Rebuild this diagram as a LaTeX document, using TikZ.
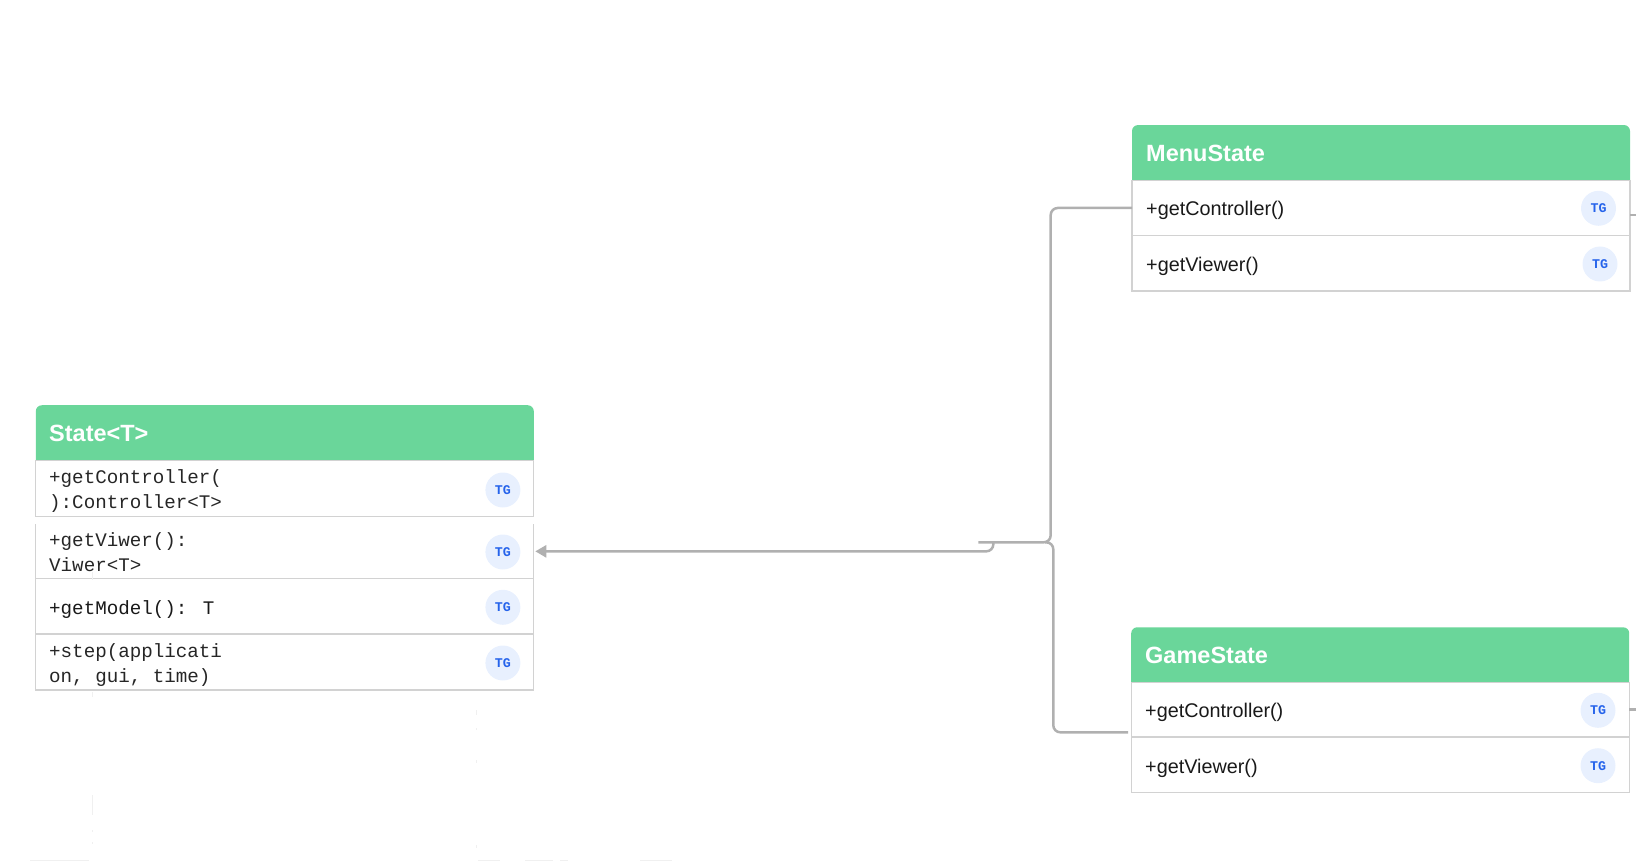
\documentclass[tikz,border=0pt]{standalone}
\usepackage{fontspec}
\setmainfont{Liberation Sans}
\newfontfamily\monofam{Liberation Mono}
\usetikzlibrary{arrows.meta}
\definecolor{headgreen}{HTML}{6AD69A}
\definecolor{rowgray}{HTML}{D2D2D2}
\definecolor{linkgray}{HTML}{B0B0B0}
\definecolor{badgefill}{HTML}{E8F0FE}
\definecolor{badgeblue}{HTML}{2563EB}
\definecolor{tracegray}{HTML}{F0F0F0}
\tikzset{
	rowbox/.style={rectangle,draw=rowgray,line width=1.3pt,inner sep=0pt,outer sep=0pt,minimum width=498pt},
	rowopen/.style={rectangle,inner sep=0pt,outer sep=0pt,minimum width=498pt},
	headbox/.style={rectangle,inner sep=0pt,outer sep=0pt,minimum width=498pt},
	headtext/.style={anchor=base west,inner sep=0pt,text=white,font=\fontsize{23.5}{28}\selectfont\bfseries},
	codetext/.style={anchor=west,inner sep=0pt,align=left,font=\monofam\fontsize{19.2}{25}\selectfont,text=black!85},
	rowtext/.style={anchor=base west,inner sep=0pt,font=\fontsize{19.8}{24}\selectfont,text=black!90},
	badge/.style={circle,fill=badgefill,minimum size=35pt,inner sep=0pt,text=badgeblue,font=\monofam\fontsize{13.3}{16}\selectfont\bfseries},
	link/.style={draw=linkgray,line width=2.5pt},
	trace/.style={draw=tracegray,line width=0.8pt}
}
\begin{document}
\begin{tikzpicture}[x=1pt,y=-1pt]
	\useasboundingbox (0,0) rectangle (1636,866);

	% State<T>
	\node[headbox,minimum height=55.5pt] (sh) at (284.8,433) {};
	\fill[headgreen] (sh.south west) [rounded corners=6pt] -- (sh.north west) -- (sh.north east) [sharp corners] -- (sh.south east) -- cycle;
	\node[headtext] (shtext) at (49,441.5) {State<T>};

	\node[rowbox,minimum height=56pt] (s1) at (284.8,488.7) {};
	\node[rowopen,minimum height=54.7pt] (s2) at (284.8,551.35) {};
	\draw[rowgray,line width=1.3pt] (s2.north west) -- (s2.south west) -- (s2.south east) -- (s2.north east);
	\node[rowbox,minimum height=55.3pt] (s3) at (284.8,606.35) {};
	\node[rowbox,minimum height=56pt] (s4) at (284.8,662) {};

	\node[codetext] (s1text) at (49,491) {+getController(\\):Controller<T>};
	\node[codetext] (s2text) at (49,552.5) {+getViwer():\\Viwer<T>};
	\node[rowtext,font=\monofam\fontsize{19.2}{25}\selectfont] (s3text) at (49,614) {+getModel(): T};
	\node[codetext] (s4text) at (49,665) {+step(applicati\\on, gui, time)};

	\node[badge] (s1tag) at (502.9,490) {TG};
	\node[badge] (s2tag) at (502.9,552) {TG};
	\node[badge] (s3tag) at (502.9,607.3) {TG};
	\node[badge] (s4tag) at (502.9,663) {TG};

	% MenuState
	\node[headbox,minimum height=55.3pt] (mh) at (1381,152.7) {};
	\fill[headgreen] (mh.south west) [rounded corners=6pt] -- (mh.north west) -- (mh.north east) [sharp corners] -- (mh.south east) -- cycle;
	\node[headtext] (mhtext) at (1146,161.5) {MenuState};

	\node[rowbox,minimum height=55pt] (m1) at (1381,207.8) {};
	\node[rowbox,minimum height=55.7pt] (m2) at (1381,263.2) {};
	\node[rowtext] (m1text) at (1146,215.7) {+getController()};
	\node[rowtext] (m2text) at (1146,271.2) {+getViewer()};
	\node[badge] (m1tag) at (1598.5,208.3) {TG};
	\node[badge] (m2tag) at (1600,264) {TG};

	% GameState
	\node[headbox,minimum height=55pt] (gh) at (1380.2,654.8) {};
	\fill[headgreen] (gh.south west) [rounded corners=6pt] -- (gh.north west) -- (gh.north east) [sharp corners] -- (gh.south east) -- cycle;
	\node[headtext] (ghtext) at (1145,663.2) {GameState};

	\node[rowbox,minimum height=54.7pt] (g1) at (1380.2,709.7) {};
	\node[rowbox,minimum height=55.7pt] (g2) at (1380.2,764.9) {};
	\node[rowtext] (g1text) at (1145,717.6) {+getController()};
	\node[rowtext] (g2text) at (1145,773) {+getViewer()};
	\node[badge] (g1tag) at (1598,710.3) {TG};
	\node[badge] (g2tag) at (1598,765.7) {TG};

	% connectors
	\coordinate (hub) at (978.3,542.3);
	\coordinate (drop) at (993.3,542.3);
	\coordinate (gport) at (1128,732.3);
	\coordinate (mright) at (1638,215);
	\coordinate (gright) at (1638,709.7);

	\draw[link,rounded corners=7pt] (m1.west) -- (1050.7,208) -- (1050.7,542.3) -- (hub);
	\draw[link,rounded corners=7pt] (1045,542.3) -- (1053.3,542.3) -- (1053.3,732.3) -- (gport);
	\draw[link,rounded corners=7pt,-{Triangle[length=11pt,width=12pt]},shorten >=1.5pt] (drop) |- (s2.east);
	\draw[link] (m1.east |- mright) -- (mright);
	\draw[link] (g1.east) -- (gright);

	% faint leftovers below State<T>
	\foreach \ya/\yb in {572/580,692/697,795/815,830/832,842/844}
		\draw[trace] (92.3,\ya) -- (92.3,\yb);
	\foreach \ya/\yb in {710/715,728/730,760/763,845/848}
		\draw[trace] (476.3,\ya) -- (476.3,\yb);
	\foreach \xa/\xb in {30/89,478/500,525/553,560/568,640/672}
		\draw[trace] (\xa,860) -- (\xb,860);
\end{tikzpicture}
\end{document}
